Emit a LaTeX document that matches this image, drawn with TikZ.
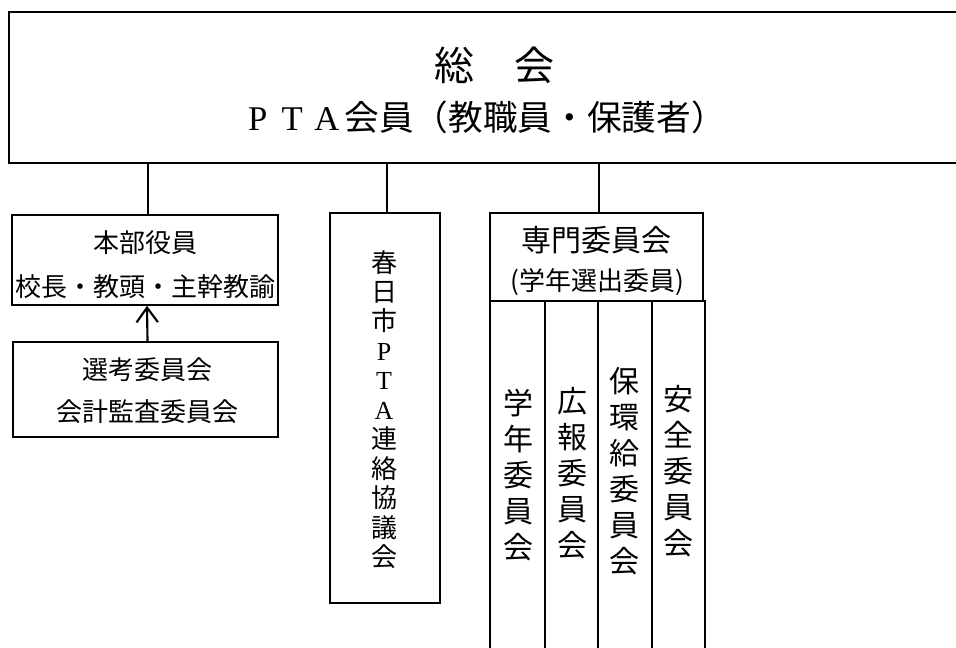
\documentclass[tikz,border=0pt]{standalone}
\usepackage{fontspec}
\setmainfont{Noto Sans CJK JP}
\newfontfamily\lat{Liberation Serif}
\usetikzlibrary{arrows.meta}
\tikzset{
  box/.style={draw, line width=1.2pt, inner sep=0pt},
  colbox/.style={draw, line width=1.5pt, inner sep=0pt},
  lnk/.style={line width=1.2pt},
  txt/.style={inner sep=0pt, align=center},
  fbig/.style={font=\fontsize{30}{36}\selectfont},
  fmid/.style={font=\fontsize{26}{30}\selectfont},
  fsm/.style={font=\fontsize{19.5}{22}\selectfont},
  fvert/.style={font=\fontsize{19.5}{22.1}\selectfont},
  fcol/.style={font=\fontsize{22.5}{27}\selectfont},
}
\begin{document}
\begin{tikzpicture}[x=0.75pt,y=-0.75pt]
\useasboundingbox (0,0) rectangle (956,648);
\fill[white] (0,0) rectangle (956,648);
% top box (runs past the right edge)
\node[box, minimum width=724.5pt, minimum height=113.25pt] (top) at (492,87.5) {};
\node[txt, fbig] (t1) at (494,65) {総　会};
\node[txt, fmid] (t2) at (483,117) {\makebox[1em]{\lat P}\makebox[1em]{\lat T}\makebox[1em]{\lat A}会員（教職員・保護者）};
% left boxes
\node[box, minimum width=199.5pt, minimum height=67.5pt] (hb) at (145,260) {};
\node[txt, fsm] (hb1) at (145,243) {本部役員};
\node[txt, fsm] (hb2) at (146,287) {校長・教頭・主幹教諭};
\node[box, minimum width=198.75pt, minimum height=71.25pt] (sk) at (145.5,389.5) {};
\node[txt, fsm] (sk1) at (147,370) {選考委員会};
\node[txt, fsm] (sk2) at (147,412) {会計監査委員会};
\draw[line width=1.6pt, -{Straight Barb[length=11pt,width=16pt,line width=1.6pt]}] ([xshift=1.5pt]sk.north) -- ([xshift=1.5pt]hb.south);
% middle box
\node[box, minimum width=82.5pt, minimum height=292.5pt] (kp) at (385,408) {};
\node[txt, fvert] (kp1) at (384,409.5) {春\\日\\市\\{\lat P}\\{\lat T}\\{\lat A}\\連\\絡\\協\\議\\会};
% right group
\node[box, minimum width=159.75pt, minimum height=66pt] (sm) at (596.5,257) {};
\node[txt, fcol] (sm1) at (596,240) {専門委員会};
\node[txt, fsm] (sm2) at (597,282) {(学年選出委員)};
\node[colbox, minimum width=41.25pt, minimum height=273pt] (c1) at (517.5,483) {};
\node[colbox, minimum width=39.75pt, minimum height=273pt] (c2) at (571.5,483) {};
\node[colbox, minimum width=40.5pt, minimum height=273pt] (c3) at (625,483) {};
\node[colbox, minimum width=39.75pt, minimum height=273pt] (c4) at (678.5,483) {};
\node[txt, fcol] (c1t) at (518,475) {学\\年\\委\\員\\会};
\node[txt, fcol] (c2t) at (572,473) {広\\報\\委\\員\\会};
\node[txt, fcol] (c3t) at (624,471.5) {保\\環\\給\\委\\員\\会};
\node[txt, fcol] (c4t) at (678,471) {安\\全\\委\\員\\会};
% connectors
\draw[lnk] ([xshift=2.25pt]hb.north) -- ([xshift=2.25pt]hb.north |- top.south);
\draw[lnk] ([xshift=1.5pt]kp.north) -- ([xshift=1.5pt]kp.north |- top.south);
\draw[lnk] ([xshift=1.9pt]sm.north) -- ([xshift=1.9pt]sm.north |- top.south);
\end{tikzpicture}
\end{document}
